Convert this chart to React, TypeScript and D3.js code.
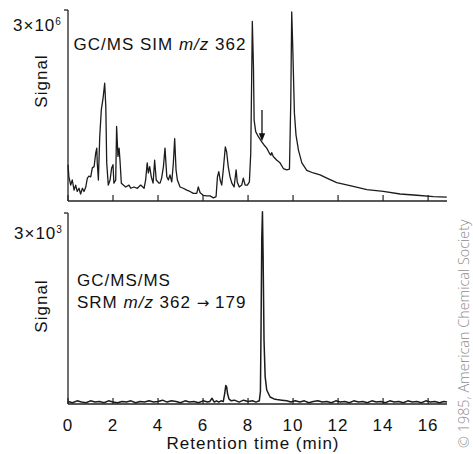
import React from 'react';
import * as d3 from 'd3';

// Retention-time ticks (min)
const xTicks: number[] = [0, 2, 4, 6, 8, 10, 12, 14, 16];

// GC/MS SIM m/z 362 trace: [time (min), signal (x10^6)]
const simTrace: [number, number][] = [
  [0.0, 0.57], [0.04, 0.38], [0.12, 0.25], [0.19, 0.33], [0.27, 0.17], [0.34, 0.25], [0.41, 0.15],
  [0.49, 0.2], [0.56, 0.11], [0.64, 0.2], [0.71, 0.15], [0.79, 0.22], [0.86, 0.36], [0.93, 0.39],
  [1.01, 0.38], [1.08, 0.52], [1.16, 0.54], [1.23, 0.75], [1.28, 0.83], [1.3, 0.6], [1.35, 0.33],
  [1.41, 1.01], [1.48, 1.43], [1.56, 1.62], [1.63, 1.85], [1.68, 1.48], [1.72, 0.6], [1.79, 0.25],
  [1.87, 0.33], [1.94, 0.52], [2.0, 0.57], [2.04, 0.28], [2.12, 0.33], [2.16, 1.17], [2.22, 0.7],
  [2.27, 0.83], [2.31, 0.64], [2.37, 0.28], [2.46, 0.25], [2.56, 0.22], [2.71, 0.25], [2.79, 0.2],
  [2.93, 0.22], [3.08, 0.2], [3.23, 0.25], [3.38, 0.2], [3.45, 0.33], [3.52, 0.6], [3.57, 0.44],
  [3.63, 0.54], [3.7, 0.38], [3.78, 0.28], [3.85, 0.64], [3.92, 0.33], [4.04, 0.28], [4.09, 0.28],
  [4.16, 0.36], [4.24, 0.54], [4.31, 0.83], [4.39, 0.38], [4.46, 0.33], [4.53, 0.41], [4.61, 0.3],
  [4.68, 0.59], [4.74, 0.98], [4.8, 0.49], [4.86, 0.33], [4.98, 0.22], [5.12, 0.2], [5.28, 0.17],
  [5.42, 0.15], [5.57, 0.12], [5.72, 0.12], [5.79, 0.22], [5.87, 0.13], [6.01, 0.09], [6.16, 0.08],
  [6.31, 0.08], [6.46, 0.05], [6.58, 0.07], [6.64, 0.38], [6.7, 0.46], [6.76, 0.33], [6.83, 0.25],
  [6.9, 0.49], [6.99, 0.85], [7.05, 0.77], [7.12, 0.54], [7.2, 0.38], [7.28, 0.28], [7.38, 0.22],
  [7.47, 0.49], [7.52, 0.3], [7.61, 0.22], [7.72, 0.25], [7.79, 0.36], [7.87, 0.25], [7.97, 0.25],
  [8.06, 0.3], [8.12, 0.75], [8.16, 1.9], [8.19, 2.82], [8.24, 2.11], [8.27, 1.27], [8.34, 1.09],
  [8.46, 1.01], [8.61, 0.93], [8.71, 0.88], [8.83, 0.83], [8.95, 0.75], [9.01, 0.72], [9.05, 0.76],
  [9.12, 0.7], [9.28, 0.64], [9.42, 0.6], [9.57, 0.51], [9.72, 0.49], [9.84, 0.5], [9.9, 1.59],
  [9.94, 2.97], [9.99, 2.37], [10.06, 1.38], [10.13, 1.04], [10.24, 0.8], [10.39, 0.6], [10.61, 0.48],
  [10.9, 0.44], [11.2, 0.41], [11.5, 0.36], [11.94, 0.29], [12.53, 0.24], [13.28, 0.18], [14.01, 0.15],
  [14.76, 0.11], [15.5, 0.09], [16.24, 0.07], [16.83, 0.06],
];

// GC/MS/MS SRM m/z 362 -> 179 trace: [time (min), signal (x10^3)]
const srmTrace: [number, number][] = [
  [0, 0.04], [0.2, 0.02], [0.4, 0.05], [0.6, 0.03], [0.8, 0.02], [1.0, 0.05], [1.2, 0.03], [1.4, 0.04],
  [1.6, 0.02], [1.8, 0.05], [2.0, 0.03], [2.2, 0.02], [2.4, 0.04], [2.6, 0.03], [2.8, 0.05], [3.0, 0.02],
  [3.2, 0.04], [3.4, 0.03], [3.6, 0.05], [3.8, 0.03], [4.0, 0.04], [4.2, 0.06], [4.4, 0.03], [4.6, 0.05],
  [4.8, 0.04], [5.0, 0.02], [5.2, 0.05], [5.4, 0.03], [5.6, 0.04], [5.8, 0.02], [6.0, 0.05], [6.2, 0.03],
  [6.3, 0.04], [6.4, 0.09], [6.5, 0.03], [6.6, 0.05], [6.7, 0.03], [6.8, 0.05], [6.9, 0.04], [6.96, 0.16],
  [7.01, 0.29], [7.05, 0.27], [7.09, 0.16], [7.15, 0.08], [7.25, 0.05], [7.4, 0.06], [7.6, 0.03],
  [7.8, 0.06], [8.0, 0.04], [8.2, 0.05], [8.35, 0.03], [8.5, 0.05], [8.55, 0.2], [8.58, 1.3], [8.61, 2.6],
  [8.64, 3.02], [8.67, 2.3], [8.71, 1.0], [8.76, 0.43], [8.83, 0.22], [8.98, 0.11], [9.15, 0.08],
  [9.28, 0.07], [9.5, 0.06], [9.72, 0.05], [9.9, 0.03], [10.1, 0.05], [10.3, 0.03], [10.5, 0.05],
  [10.7, 0.02], [10.9, 0.04], [11.1, 0.05], [11.3, 0.03], [11.5, 0.04], [11.7, 0.02], [11.9, 0.05],
  [12.1, 0.03], [12.3, 0.04], [12.5, 0.02], [12.7, 0.05], [12.9, 0.03], [13.1, 0.04], [13.3, 0.02],
  [13.5, 0.05], [13.7, 0.03], [13.9, 0.04], [14.1, 0.02], [14.3, 0.05], [14.5, 0.03], [14.7, 0.04],
  [14.9, 0.02], [15.1, 0.05], [15.3, 0.03], [15.5, 0.04], [15.7, 0.02], [15.9, 0.05], [16.1, 0.03],
  [16.3, 0.04], [16.5, 0.02], [16.7, 0.04], [16.84, 0.03],
];

// Arrow marking the analyte in the SIM trace: time, from-signal, to-signal
const arrowTime = 8.62;
const arrowFrom = 1.43;
const arrowTo = 0.94;

const FONT = "'Liberation Sans', Arial, Helvetica, sans-serif";

export default function App() {
  const W = 473;
  const H = 454;
  const x = d3.scaleLinear().domain([0, 16.84]).range([68, 447]);
  const yTop = d3.scaleLinear().domain([0, 3]).range([201, 10]);
  const yBot = d3.scaleLinear().domain([0, 3]).range([404, 213]);

  const lineTop = d3.line<[number, number]>().x((d) => x(d[0])).y((d) => yTop(d[1]));
  const lineBot = d3.line<[number, number]>().x((d) => x(d[0])).y((d) => yBot(d[1]));

  const axisColor = '#222';
  const traceColor = '#1c1c1c';
  const textStyle = { fontFamily: FONT, fontSize: 17, letterSpacing: 1, fill: '#111' } as const;

  const ax = x(arrowTime);
  const ay1 = yTop(arrowFrom);
  const ay2 = yTop(arrowTo);

  return (
    <svg
      width={W}
      height={H}
      viewBox={`0 0 ${W} ${H}`}
      style={{ position: 'absolute', left: 0, top: 0, background: '#fff' }}
    >
      <rect x={0} y={0} width={W} height={H} fill="#fff" />

      {/* Top panel axes */}
      <line x1={x(0)} x2={x(0)} y1={yTop(3)} y2={yTop(0)} stroke={axisColor} strokeWidth={1.3} />
      <line x1={x(0) - 4} x2={x(0)} y1={yTop(3)} y2={yTop(3)} stroke={axisColor} strokeWidth={1.3} />
      <line x1={x(0)} x2={x(16.84)} y1={yTop(0)} y2={yTop(0)} stroke={axisColor} strokeWidth={1.3} />
      {xTicks.map((t) => (
        <line key={'tt' + t} x1={x(t)} x2={x(t)} y1={yTop(0)} y2={yTop(0) - 6} stroke={axisColor} strokeWidth={1.2} />
      ))}

      {/* Bottom panel axes */}
      <line x1={x(0)} x2={x(0)} y1={yBot(3)} y2={yBot(0)} stroke={axisColor} strokeWidth={1.3} />
      <line x1={x(0) - 4} x2={x(0)} y1={yBot(3)} y2={yBot(3)} stroke={axisColor} strokeWidth={1.3} />
      <line x1={x(0)} x2={x(16.84)} y1={yBot(0)} y2={yBot(0)} stroke={axisColor} strokeWidth={1.3} />
      {xTicks.map((t) => (
        <line key={'bt' + t} x1={x(t)} x2={x(t)} y1={yBot(0)} y2={yBot(0) - 6} stroke={axisColor} strokeWidth={1.2} />
      ))}
      {xTicks.map((t) => (
        <text key={'bl' + t} x={x(t)} y={430.5} textAnchor="middle" style={textStyle}>
          {t}
        </text>
      ))}

      {/* Traces */}
      <path d={lineTop(simTrace) || ''} fill="none" stroke={traceColor} strokeWidth={1.3} strokeLinejoin="round" />
      <path d={lineBot(srmTrace) || ''} fill="none" stroke={traceColor} strokeWidth={1.5} strokeLinejoin="round" />

      {/* Arrow */}
      <line x1={ax} x2={ax} y1={ay1} y2={ay2 - 6} stroke="#111" strokeWidth={1.3} />
      <path d={`M${ax - 3.2},${ay2 - 8} L${ax + 3.2},${ay2 - 8} L${ax},${ay2} Z`} fill="#111" />

      {/* Y tick labels */}
      <text x={13} y={31} style={textStyle}>
        3×10<tspan fontSize={10} dy={-6} letterSpacing={0}>6</tspan>
      </text>
      <text x={14} y={239} style={textStyle}>
        3×10<tspan fontSize={10} dy={-6} letterSpacing={0}>3</tspan>
      </text>

      {/* Y axis titles */}
      <text transform="translate(47,81) rotate(-90)" textAnchor="middle" style={textStyle}>
        Signal
      </text>
      <text transform="translate(47,306) rotate(-90)" textAnchor="middle" style={textStyle}>
        Signal
      </text>

      {/* Panel labels */}
      <text x={73.5} y={50} style={textStyle}>
        GC/MS SIM <tspan fontStyle="italic">m/z</tspan> 362
      </text>
      <text x={77} y={286} style={textStyle}>
        GC/MS/MS
      </text>
      <text x={77} y={307.5} style={textStyle}>
        SRM <tspan fontStyle="italic">m/z</tspan> 362{' '}
        <tspan fontFamily="'DejaVu Sans', sans-serif" fontSize={15} letterSpacing={0}>→</tspan> 179
      </text>

      {/* X axis title */}
      <text x={253} y={449} textAnchor="middle" style={textStyle}>
        Retention time (min)
      </text>

      {/* Copyright */}
      <text
        transform="translate(468.5,448) rotate(-90)"
        style={{ fontFamily: "'Open Sans', 'DejaVu Sans', sans-serif", fontSize: 14.4, fontWeight: 300, fill: '#8c8c8c' }}
      >
        © 1985, American Chemical Society
      </text>
    </svg>
  );
}
